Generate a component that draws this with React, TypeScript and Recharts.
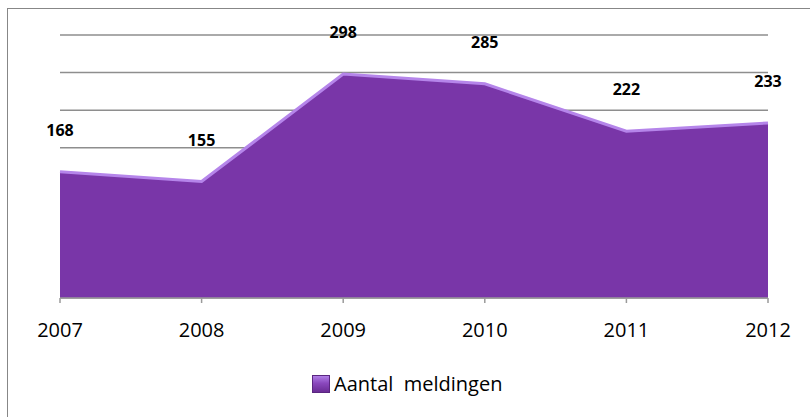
import React from "react";
import { Area, AreaChart, CartesianGrid, XAxis, YAxis } from "recharts";

const years = ["2007", "2008", "2009", "2010", "2011", "2012"];
const meldingen = [168, 155, 298, 285, 222, 233];
const yTicks = [0, 50, 100, 150, 200, 250, 300, 350];
const seriesName = "Aantal  meldingen";

const data = years.map((year, i) => ({ year, meldingen: meldingen[i] }));

const FONT = "'Open Sans', 'Liberation Sans', sans-serif";
const PURPLE = "#7936a8";

const renderLabel = (props: any) => {
    const { x, y, value } = props;
    return (
        <text x={x} y={y - 40} textAnchor="middle" dominantBaseline="middle"
            fontFamily={FONT} fontSize={16} fontWeight={700} fill="#000">
            {value}
        </text>
    );
};

// legend drawn as html so it doesn't eat into the plot height
const LegendBox = () => (
    <div style={{
        position: "absolute", left: 312, top: 371, display: "flex", alignItems: "center",
        fontFamily: FONT, fontSize: 20, color: "#000", lineHeight: "26px",
    }}>
        <span style={{
            display: "inline-block", width: 16, height: 16, marginRight: 4,
            background: "linear-gradient(to bottom, #b07ee6 0%, #8a48bd 45%, #6a2c95 100%)",
            border: "1px solid #5a2680",
        }} />
        <span style={{ whiteSpace: "pre" }}>{seriesName}</span>
    </div>
);

export default function App() {
    return (
        <div style={{ position: "absolute", top: 0, left: 0, width: 810, height: 417, overflow: "hidden", background: "#fff" }}>
            <div style={{ position: "absolute", left: 7, top: 8, width: 830, height: 440, border: "1px solid #878787", boxSizing: "border-box" }} />
            <div style={{ position: "absolute", left: 0, top: 0 }}>
                <AreaChart width={810} height={417} data={data} margin={{ top: 35, right: 42, bottom: 89, left: 60 }}>
                    <CartesianGrid vertical={false} stroke="#8e8e8e" strokeWidth={1.5} />
                    <YAxis hide domain={[0, 350]} ticks={yTicks} />
                    <XAxis dataKey="year" stroke="#9a9a9a" strokeWidth={1.5} tickSize={5} tickMargin={20}
                        tick={{ fill: "#000", fontSize: 20, fontFamily: FONT }} interval={0} height={30} />
                    <Area type="linear" dataKey="meldingen" name={seriesName} fill={PURPLE} fillOpacity={1}
                        stroke="#b585ea" strokeWidth={3} isAnimationActive={false} label={renderLabel} />
                </AreaChart>
            </div>
            <LegendBox />
        </div>
    );
}
